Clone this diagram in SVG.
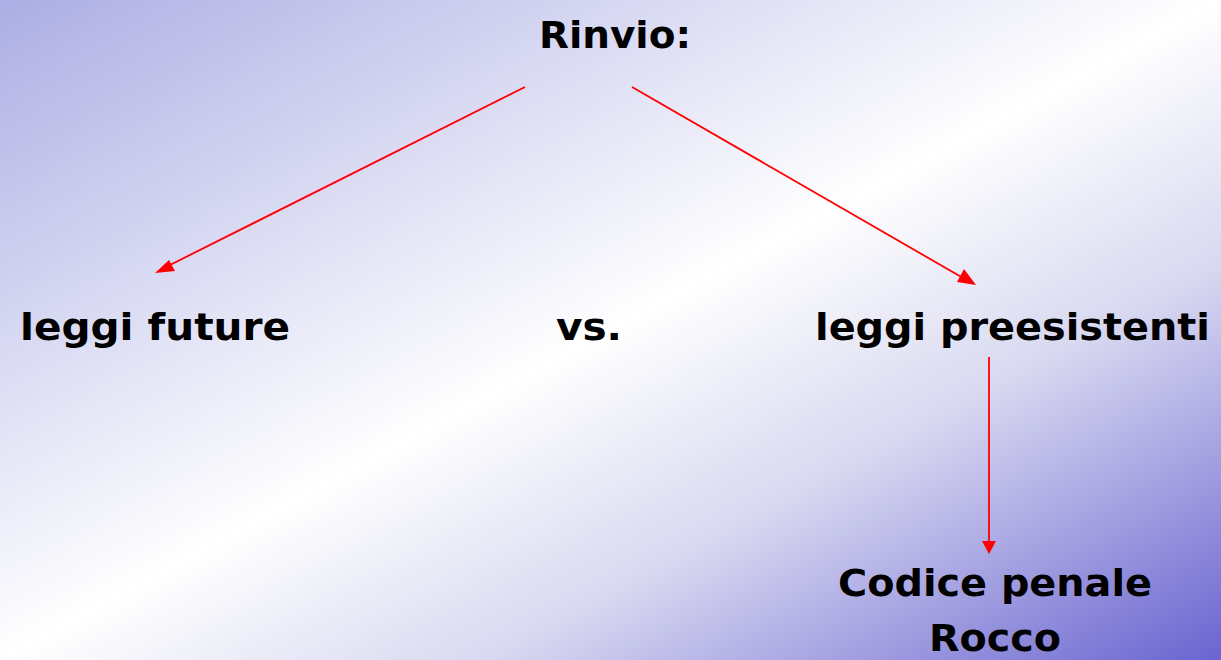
<svg xmlns="http://www.w3.org/2000/svg" width="1221" height="660" viewBox="0 0 1221 660">
<style>
.t{font-family:"DejaVu Sans","Liberation Sans",sans-serif;font-weight:bold;font-size:38px;fill:#000}
.c{stroke:#ff0000;stroke-width:1.8;fill:none}
.h{fill:#ff0000}
</style>
<defs>
<linearGradient id="bg" x1="0" y1="0" x2="1" y2="1">
<stop offset="0" stop-color="#acaee4"/>
<stop offset="0.5" stop-color="#ffffff"/>
<stop offset="0.7" stop-color="#d8d8f1"/>
<stop offset="1" stop-color="#6a64d0"/>
</linearGradient>
</defs>
<rect width="1221" height="660" fill="url(#bg)"/>
<g id="connectors">
<line class="c" x1="525" y1="87" x2="160" y2="270"/>
<path class="h" d="M155,273 L169,260 L175,271 Z"/>
<line class="c" x1="632" y1="87" x2="970" y2="282"/>
<path class="h" d="M976,285 L957,282 L964,269 Z"/>
<line class="c" x1="989" y1="357" x2="989" y2="545"/>
<path class="h" d="M982,541 L996,541 L989,554 Z"/>
</g>
<g id="rinvio"><text class="t" x="615" y="48" text-anchor="middle" textLength="152" lengthAdjust="spacingAndGlyphs">Rinvio:</text></g>
<g id="leggi-future"><text class="t" x="20" y="340" textLength="270" lengthAdjust="spacingAndGlyphs">leggi future</text></g>
<g id="vs"><text class="t" x="556" y="340" textLength="66" lengthAdjust="spacingAndGlyphs">vs.</text></g>
<g id="leggi-preesistenti"><text class="t" x="815" y="340" textLength="395" lengthAdjust="spacingAndGlyphs">leggi preesistenti</text></g>
<g id="codice"><text class="t" x="838" y="596" textLength="314" lengthAdjust="spacingAndGlyphs">Codice penale</text>
<text class="t" x="995" y="651" text-anchor="middle" textLength="132" lengthAdjust="spacingAndGlyphs">Rocco</text></g>
</svg>
